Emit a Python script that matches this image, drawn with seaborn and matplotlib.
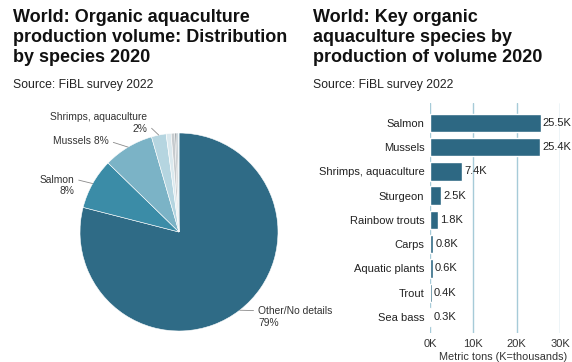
import numpy as np
import pandas as pd
import matplotlib
matplotlib.use("Agg")
import matplotlib.pyplot as plt
import seaborn as sns

# ---- data ----
pie_labels = ["Other/No details", "Salmon", "Mussels", "Shrimps, aquaculture", "Sturgeon",
              "Rainbow trouts", "Carps", "Aquatic plants", "Trout", "Sea bass"]
pie_values = [243.4, 25.5, 25.4, 7.4, 2.5, 1.8, 0.8, 0.6, 0.4, 0.3]  # thousand metric tons
pie_colors = ["#2f6b86", "#3b8ca7", "#7bb3c6", "#b5d5e0", "#dbe9ee",
              "#c6cbce", "#9aa3a8", "#505b61", "#2f6b86", "#9ccbd9"]

bar_categories = ["Salmon", "Mussels", "Shrimps, aquaculture", "Sturgeon", "Rainbow trouts",
                  "Carps", "Aquatic plants", "Trout", "Sea bass"]
bar_values = [25500, 25400, 7400, 2500, 1800, 800, 600, 400, 300]
x_ticks = [0, 10000, 20000, 30000]
x_ticklabels = ["0K", "10K", "20K", "30K"]

title_left = "World: Organic aquaculture\nproduction volume: Distribution\nby species 2020"
title_right = "World: Key organic\naquaculture species by\nproduction of volume 2020"
source = "Source: FiBL survey 2022"

sns.set_theme(style="white")
plt.rcParams["font.family"] = ["Liberation Sans", "DejaVu Sans"]

W, H = 572, 362
fig = plt.figure(figsize=(W / 100, H / 100), dpi=100, facecolor="white")

def fx(px):
    return px / W

def fy(py):
    return 1 - py / H

# ---- titles ----
for x0, t in [(13, title_left), (313, title_right)]:
    fig.text(fx(x0), fy(9), t, ha="left", va="top", fontsize=13, fontweight="bold",
             color="#111111", linespacing=1.25)
    fig.text(fx(x0), fy(85), source, ha="left", va="center", fontsize=8.8, color="#222222")

# ---- pie ----
axp = fig.add_axes([fx(80), fy(331), fx(198), 198 / H])
wedges, _ = axp.pie(pie_values, colors=pie_colors, startangle=90, counterclock=False,
                    wedgeprops=dict(edgecolor="white", linewidth=0.4))
axp.set_xlim(-1, 1)
axp.set_ylim(-1, 1)
axp.set_aspect("equal")
axp.axis("off")

total = sum(pie_values)
pct = [v / total * 100 for v in pie_values]

label_specs = {
    0: (f"Other/No details\n{pct[0]:.0f}%", (0.80, -0.86), "left", (0, 0.8)),
    1: (f"Salmon\n{pct[1]:.0f}%", (-1.06, 0.47), "right", (1, 0.8)),
    2: (f"Mussels {pct[2]:.0f}%", (-0.71, 0.92), "right", (1, 0.5)),
    3: (f"Shrimps, aquaculture\n{pct[3]:.0f}%", (-0.32, 1.10), "right", (1, 0.45)),
}
for i, (txt, pos, ha, rel) in label_specs.items():
    w = wedges[i]
    ang = np.deg2rad((w.theta1 + w.theta2) / 2)
    xy = (np.cos(ang) * 1.0, np.sin(ang) * 1.0)
    axp.annotate(txt, xy=xy, xytext=pos, ha=ha, va="center", fontsize=7.4, color="#333333",
                 multialignment=ha, annotation_clip=False,
                 arrowprops=dict(arrowstyle="-", color="#8a8a8a", lw=0.6,
                                 shrinkA=1, shrinkB=0, relpos=rel))

# ---- bars ----
axb = fig.add_axes([fx(430), fy(333), fx(130), 230 / H])
df = pd.DataFrame({"species": bar_categories, "value": bar_values})
sns.barplot(data=df, x="value", y="species", orient="h", color="#2d6883", width=0.76,
            saturation=1, ax=axb, zorder=3)
axb.set_xlim(0, 30000)
axb.set_ylim(len(bar_categories) - 1 + 0.66, -0.82)
axb.set_xticks(x_ticks)
axb.set_xticklabels(x_ticklabels, fontsize=8, color="#333333")
axb.tick_params(axis="both", length=0, pad=4)
axb.tick_params(axis="y", labelsize=8, labelcolor="#222222")
axb.set_ylabel("")
axb.set_xlabel("Metric tons (K=thousands)", fontsize=7.8, color="#333333")
axb.xaxis.set_label_coords(0.56, -0.083)
for s in axb.spines.values():
    s.set_visible(False)
axb.grid(False)
for xt in x_ticks:
    axb.axvline(xt, color="#a6cbd8", lw=1.0, zorder=1)
for i, v in enumerate(bar_values):
    axb.text(v + 500, i, f"{v/1000:.1f}K", va="center", ha="left", fontsize=8,
             color="#222222", clip_on=False, zorder=4)

fig.savefig("out.png", dpi=100, facecolor="white")
